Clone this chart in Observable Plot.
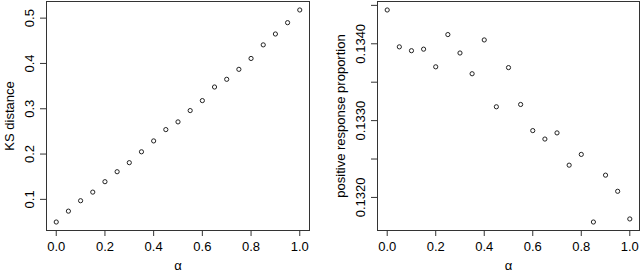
<!DOCTYPE html>
<html><head><meta charset="utf-8">
<script src="https://cdn.jsdelivr.net/npm/d3@7"></script>
<script src="https://cdn.jsdelivr.net/npm/@observablehq/plot@0.6"></script>
<style>
body{margin:0;background:#fff}
#c{display:flex;width:640px;height:273px;overflow:hidden}
#c svg{display:block;overflow:visible}
</style>
</head><body><div id="c"></div>
<script>
const alpha = [0,0.05,0.1,0.15,0.2,0.25,0.3,0.35,0.4,0.45,0.5,0.55,0.6,0.65,0.7,0.75,0.8,0.85,0.9,0.95,1.0];
const ksDistance = [0.050,0.074,0.097,0.116,0.139,0.161,0.181,0.205,0.229,0.254,0.271,0.296,0.318,0.348,0.365,0.387,0.411,0.441,0.465,0.490,0.518];
const positiveProportion = [0.13444,0.13396,0.13391,0.13393,0.13370,0.13412,0.13388,0.13361,0.13405,0.13318,0.13369,0.13321,0.13287,0.13276,0.13284,0.13242,0.13256,0.13168,0.13229,0.13208,0.13172];
const xTicks = [0,0.2,0.4,0.6,0.8,1.0];
const ksTicks = [0.1,0.2,0.3,0.4,0.5];
const propTicks = [0.1320,0.1325,0.1330,0.1335,0.1340,0.1345];
const propLabelTicks = [0.1320,0.1330,0.1340];
const xTitle = "α";
const ksTitle = "KS distance";
const propTitle = "positive response proportion";

function pad(ext){const d=(ext[1]-ext[0])*0.04;return [ext[0]-d, ext[1]+d];}

function panel(yValues, yTicks, yLabelTicks, yFmt, yTitle, mL, mR){
  const data = alpha.map((a,i)=>({a, v:yValues[i]}));
  return Plot.plot({
    width: 320, height: 273,
    marginLeft: mL, marginRight: mR, marginTop: 1, marginBottom: 43,
    style:{fontSize:"13px", fontFamily:"'Liberation Sans', Arial, Helvetica, sans-serif", background:"#fff", color:"#000"},
    x:{domain: pad(d3.extent(alpha)), label:null},
    y:{domain: pad(d3.extent(yValues)), label:null},
    marks:[
      Plot.frame({stroke:"#333", strokeWidth:1}),
      Plot.axisX({ticks: xTicks, tickSize: 6, tickPadding: 5, tickFormat: d=>d.toFixed(1), label:null, stroke:"#333", fill:"#000"}),
      Plot.axisY({ticks: yTicks, tickSize: 6, tickFormat: ()=>"", label:null, stroke:"#333"}),
      Plot.text(yLabelTicks, {y: d=>d, text: yFmt, frameAnchor:"left", dx:-12.5, rotate:-90, lineAnchor:"bottom", textAnchor:"middle", fill:"#000"}),
      Plot.text([yTitle], {text: d=>d, frameAnchor:"left", dx:-33, rotate:-90, lineAnchor:"bottom", textAnchor:"middle", fill:"#000"}),
      Plot.text([xTitle], {text: d=>d, frameAnchor:"bottom", dy:39, lineAnchor:"bottom", textAnchor:"middle", fill:"#000", fontSize:13}),
      Plot.dot(data, {x:"a", y:"v", r:2.1, stroke:"#222", strokeWidth:1, fill:"none"})
    ]
  });
}
const c = document.getElementById("c");
c.append(panel(ksDistance, ksTicks, ksTicks, d=>d.toFixed(1), ksTitle, 46, 11));
c.append(panel(positiveProportion, propTicks, propLabelTicks, d=>d.toFixed(4), propTitle, 57, 1));
</script>
</body></html>
